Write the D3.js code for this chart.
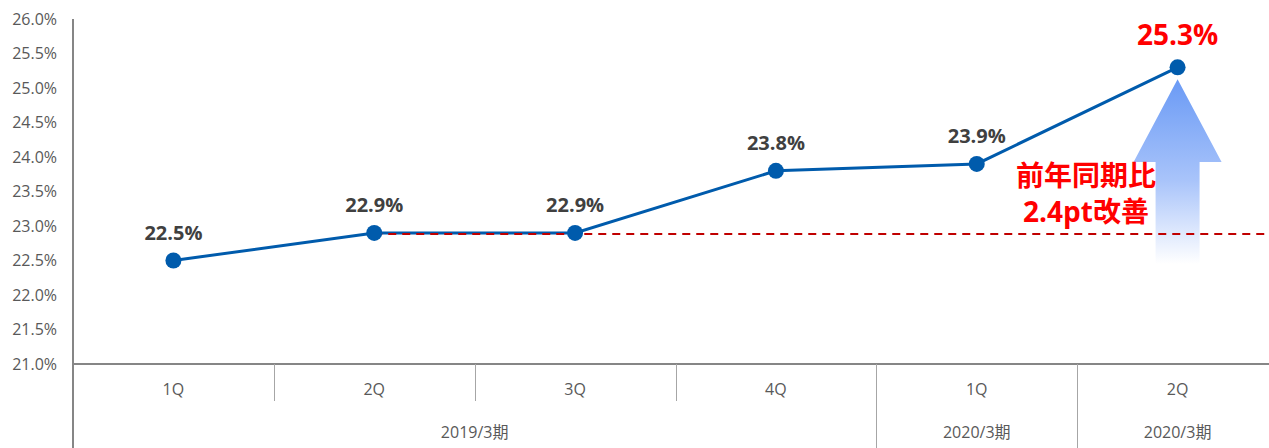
<!DOCTYPE html>
<html><head>
<meta charset="utf-8">
<script src="https://d3js.org/d3.v7.min.js"></script>
<style>
  body { margin: 0; background: #fff; }
  svg text { font-family: "Open Sans", "Noto Sans CJK JP", sans-serif; }
</style>
</head>
<body>
<svg id="chart" width="1269" height="448"></svg>
<script>
// data
const quarters = ["1Q", "2Q", "3Q", "4Q", "1Q", "2Q"];
const ratios = [22.5, 22.9, 22.9, 23.8, 23.9, 25.3];
const yTicks = [21.0, 21.5, 22.0, 22.5, 23.0, 23.5, 24.0, 24.5, 25.0, 25.5, 26.0];
const groups = [
  { label: "2019/3期", from: 0, to: 4 },
  { label: "2020/3期", from: 4, to: 5 },
  { label: "2020/3期", from: 5, to: 6 }
];
const baseline = 22.9;       // last year's same quarter
const noteLines = ["前年同期比", "2.4pt改善"];

const svg = d3.select("#chart");
const plotLeft = 73, plotRight = 1278, plotTop = 19, plotBottom = 364;

const x = d3.scaleBand().domain(d3.range(quarters.length)).range([plotLeft, plotRight]);
const y = d3.scaleLinear().domain([21, 26]).range([plotBottom, plotTop]);
const cx = i => x(i) + x.bandwidth() / 2;

// gradient for the arrow
const defs = svg.append("defs");
const grad = defs.append("linearGradient").attr("id", "arrowGrad")
  .attr("x1", 0).attr("y1", 0).attr("x2", 0).attr("y2", 1);
grad.append("stop").attr("offset", "0%").attr("stop-color", "#6a9af5");
grad.append("stop").attr("offset", "55%").attr("stop-color", "#a9c4fa");
grad.append("stop").attr("offset", "100%").attr("stop-color", "#ffffff");

// y tick labels
svg.append("g").selectAll("text").data(yTicks).join("text")
  .attr("x", 57).attr("y", d => y(d)).attr("dy", "0.35em")
  .attr("text-anchor", "end").attr("font-size", 16).attr("fill", "#595959")
  .text(d => d.toFixed(1) + "%");

// axis lines
svg.append("line").attr("x1", plotLeft).attr("x2", plotLeft).attr("y1", plotTop).attr("y2", 448)
  .attr("stroke", "#868686").attr("stroke-width", 2);
svg.append("line").attr("x1", plotLeft).attr("x2", 1269).attr("y1", plotBottom).attr("y2", plotBottom)
  .attr("stroke", "#868686").attr("stroke-width", 2);

// category separators
const groupEdges = new Set(groups.map(g => g.from));
svg.append("g").selectAll("line").data(d3.range(1, quarters.length)).join("line")
  .attr("x1", i => Math.round(x(i)) + 0.5).attr("x2", i => Math.round(x(i)) + 0.5)
  .attr("y1", plotBottom).attr("y2", i => groupEdges.has(i) ? 448 : 401)
  .attr("stroke", "#a6a6a6").attr("stroke-width", 1);

// quarter labels
svg.append("g").selectAll("text").data(quarters).join("text")
  .attr("x", (d, i) => cx(i)).attr("y", 389).attr("dy", "0.35em")
  .attr("text-anchor", "middle").attr("font-size", 16).attr("fill", "#595959")
  .text(d => d);

// period labels
svg.append("g").selectAll("text").data(groups).join("text")
  .attr("x", g => (x(g.from) + x(g.to - 1) + x.bandwidth()) / 2).attr("y", 432).attr("dy", "0.35em")
  .attr("text-anchor", "middle").attr("font-size", 16).attr("fill", "#595959")
  .text(g => g.label);

// arrow
const ax = cx(5), tipY = y(ratios[5]) + 12, headY = 162, endY = 264;
const arrow = d3.path();
arrow.moveTo(ax, tipY);
arrow.lineTo(ax + 44, headY);
arrow.lineTo(ax + 22, headY);
arrow.lineTo(ax + 22, endY);
arrow.lineTo(ax - 22, endY);
arrow.lineTo(ax - 22, headY);
arrow.lineTo(ax - 44, headY);
arrow.closePath();
svg.append("path").attr("d", arrow.toString()).attr("fill", "url(#arrowGrad)");

// main line
svg.append("path").datum(ratios)
  .attr("d", d3.line().x((d, i) => cx(i)).y(d => y(d)))
  .attr("fill", "none").attr("stroke", "#005bac").attr("stroke-width", 3);

// red dashed reference line
svg.append("line").attr("x1", cx(1)).attr("x2", 1269)
  .attr("y1", y(baseline) + 1).attr("y2", y(baseline) + 1)
  .attr("stroke", "#c00000").attr("stroke-width", 2).attr("stroke-dasharray", "8,6");

// markers
svg.append("g").selectAll("circle").data(ratios).join("circle")
  .attr("cx", (d, i) => cx(i)).attr("cy", d => y(d)).attr("r", 8)
  .attr("fill", "#005bac");

// value labels
svg.append("g").selectAll("text").data(ratios).join("text")
  .attr("x", (d, i) => cx(i))
  .attr("y", (d, i) => i === 5 ? y(d) - 32 : y(d) - 28)
  .attr("dy", "0.35em").attr("text-anchor", "middle")
  .attr("font-weight", "bold")
  .attr("font-size", (d, i) => i === 5 ? 28 : 20)
  .attr("fill", (d, i) => i === 5 ? "#ff0000" : "#404040")
  .text(d => d.toFixed(1) + "%");

// note
svg.append("g").selectAll("text").data(noteLines).join("text")
  .attr("x", 1086).attr("y", (d, i) => 176 + i * 36).attr("dy", "0.35em")
  .attr("text-anchor", "middle").attr("font-weight", "bold").attr("font-size", 28)
  .attr("fill", "#ff0000")
  .text(d => d);
</script>
</body>
</html>
